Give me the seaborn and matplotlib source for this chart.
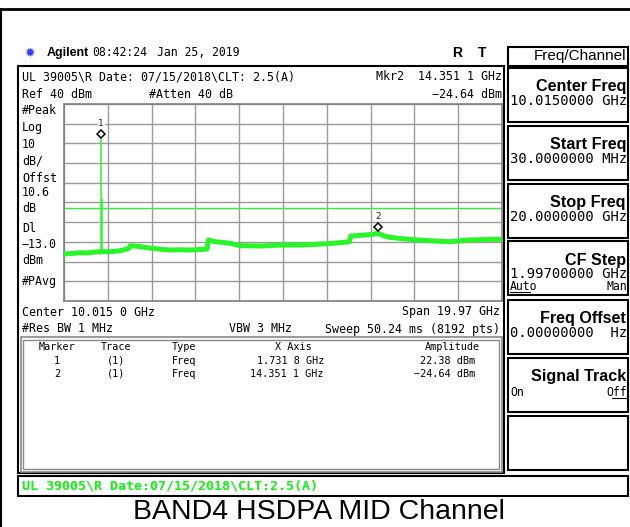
import matplotlib
matplotlib.use('Agg')
import matplotlib.pyplot as plt
import matplotlib.transforms as mtransforms
from matplotlib.patches import Rectangle
import seaborn as sns
import pandas as pd
import numpy as np

# trace (GHz, dBm)
trace_freq = [0.03, 0.40, 0.76, 1.10, 1.40, 1.67, 1.99, 2.30, 2.58, 2.85, 3.00,
              3.05, 3.50, 4.00, 4.50, 4.86, 5.30, 5.77, 6.20, 6.55,
              6.62, 6.91, 7.30, 7.60, 8.05, 8.50, 8.97, 9.50, 10.01, 10.79,
              11.30, 11.70, 12.20, 12.60, 13.05,
              13.10, 13.40, 13.75, 14.10, 14.35, 14.60, 14.90, 15.30, 15.80,
              16.20, 16.70, 17.20, 17.60, 18.00, 18.50, 19.00, 19.45, 20.00]
trace_dbm = [-36.1, -35.9, -35.5, -35.6, -35.2, -35.0, -35.0, -34.8, -34.5, -33.8, -33.1,
             -31.9, -32.4, -33.2, -33.8, -34.1, -34.0, -34.1, -33.9, -33.6,
             -29.0, -29.9, -30.3, -30.7, -31.9, -32.0, -32.1, -31.8, -31.6, -31.6,
             -31.4, -31.1, -30.8, -30.4, -29.9,
             -27.0, -26.8, -26.5, -26.2, -25.6, -26.9, -27.7, -28.2, -28.7,
             -29.0, -29.4, -29.7, -29.9, -29.5, -29.0, -28.9, -28.7, -28.7]

# carrier spike at marker 1 and its skirt
spike_freq = [1.7318, 1.7318]
spike_dbm = [-35.0, 22.38]
skirt_freq = [1.76, 1.76]
skirt_dbm = [-35.0, -8.2]

marker_ids = ["1", "2"]
marker_freq = [1.7318, 14.3511]
marker_dbm = [22.38, -24.64]

display_line = -13.0
ref_level = 40
db_per_div = 10
start_ghz, stop_ghz = 0.03, 20.0

W, H = 630, 527
fig = plt.figure(figsize=(W / 100, H / 100), dpi=100)
sns.set_style("white")

MONO = "DejaVu Sans Mono"
SANS = "Liberation Sans"
GREEN = "#2af52a"

# background / annotation layer in pixel coordinates
bg = fig.add_axes([0, 0, 1, 1], zorder=0)
bg.set_xlim(0, W)
bg.set_ylim(H, 0)
bg.axis("off")


def box(x, y, w, h, color="black", lw=1.5):
    bg.add_patch(Rectangle((x, y), w, h, fill=False, ec=color, lw=lw))


def txt(x, y, s, size=8.3, ha="left", family=MONO, weight="normal", color="black"):
    bg.text(x, y, s, fontsize=size, ha=ha, va="center", family=family,
            weight=weight, color=color)


# outer frame of the screenshot
bg.plot([0, W], [8.5, 8.5], color="black", lw=2)
bg.plot([0.8, 0.8], [8.5, H], color="black", lw=1.5)

# header row
txt(30, 53, "✹", size=9, ha="center", family="DejaVu Sans", color="#3a3aff")
txt(47, 53, "Agilent", size=9, family=SANS, weight="bold")
txt(92, 53, "08:42:24", size=8.3)
txt(157, 53, "Jan 25, 2019", size=8.3)
txt(457, 53, "R", size=10, ha="center", family=SANS, weight="bold")
txt(482, 53, "T", size=10, ha="center", family=SANS, weight="bold")

# main screen box
box(18, 66, 486, 407)
txt(22, 77, "UL 39005\\R Date: 07/15/2018\\CLT: 2.5(A)", size=8.4)
txt(502, 77, "Mkr2  14.351 1 GHz", ha="right", size=8.4)
txt(22, 95, "Ref 40 dBm", size=8.4)
txt(149, 95, "#Atten 40 dB", size=8.4)
txt(502, 95, "−24.64 dBm", ha="right", size=8.4)

side_labels = [("#Peak", 110), ("Log", 127), ("10", 144), ("dB/", 161), ("Offst", 178),
               ("10.6", 193), ("dB", 209), ("Dl", 229), ("−13.0", 245), ("dBm", 261),
               ("#PAvg", 281)]
for s, y in side_labels:
    txt(22, y, s, size=8.4)

txt(22, 312, "Center 10.015 0 GHz", size=8.4)
txt(500, 312, "Span 19.97 GHz", ha="right", size=8.4)
txt(22, 329, "#Res BW 1 MHz", size=8.4)
txt(229, 329, "VBW 3 MHz", size=8.4)
txt(500, 329, "Sweep 50.24 ms (8192 pts)", ha="right", size=8.4)

# marker table
box(20.5, 337, 481, 134.5, color="#888888", lw=1.2)
box(23, 339.5, 476, 129.5, color="#888888", lw=1.0)
TS = 7.3
for s, x in [("Marker", 57), ("Trace", 116), ("Type", 184), ("X Axis", 293), ("Amplitude", 452)]:
    txt(x, 347, s, size=TS, ha="center")
rows = [("1", "(1)", "Freq", "1.731 8 GHz", "22.38 dBm"),
        ("2", "(1)", "Freq", "14.351 1 GHz", "−24.64 dBm")]
for i, r in enumerate(rows):
    y = 360.5 + i * 13.5
    txt(57, y, r[0], size=TS, ha="center")
    txt(116, y, r[1], size=TS, ha="center")
    txt(184, y, r[2], size=TS, ha="center")
    txt(324, y, r[3], size=TS, ha="right")
    txt(475, y, r[4], size=TS, ha="right")

# right-hand softkeys
box(508, 47, 120, 18.5)
txt(626, 56, "Freq/Channel", size=11, ha="right", family=SANS)
keys = [("Center Freq", "10.0150000 GHz"), ("Start Freq", "30.0000000 MHz"),
        ("Stop Freq", "20.0000000 GHz"), ("CF Step", "1.99700000 GHz"),
        ("Freq Offset", "0.00000000  Hz"), ("Signal Track", None), (None, None)]
key_top = [68, 126, 184, 241, 300, 358, 416]
for (label, value), top in zip(keys, key_top):
    box(508, top, 120, 54)
    if label:
        txt(626, top + 19, label, size=11.6, ha="right", family=SANS, weight="bold")
    if value:
        txt(627, top + 33, value, size=10, ha="right")
# CF Step auto/man and signal track on/off
txt(510, 286, "Auto", size=8.3)
bg.plot([510, 530], [292, 292], color="black", lw=0.8)
txt(627, 286, "Man", size=8.3, ha="right")
txt(510, 392, "On", size=8.3)
txt(627, 392, "Off", size=8.3, ha="right")
bg.plot([612, 627], [398, 398], color="black", lw=0.8)

# green status bar
box(18, 476, 610, 20)
txt(22, 486, "UL 39005\\R Date:07/15/2018\\CLT:2.5(A)", size=9.6, weight="bold", color="#11ee11")

# caption
txt(319, 512, "BAND4 HSDPA MID Channel", size=20.5, ha="center", family=SANS)

# spectrum graticule
ax = fig.add_axes([64 / W, (H - 301) / H, 438 / W, 197 / H], zorder=2)
df = pd.DataFrame({"freq": trace_freq, "dbm": trace_dbm})
sns.lineplot(data=df, x="freq", y="dbm", ax=ax, color=GREEN, lw=3.6,
             estimator=None, sort=False, zorder=3)
ax.plot(spike_freq, spike_dbm, color=GREEN, lw=1.1, zorder=3)
ax.plot(skirt_freq, skirt_dbm, color=GREEN, lw=1.1, zorder=3)
ax.axhline(display_line, color=GREEN, lw=1.0, zorder=2)

mark_tr = mtransforms.offset_copy(ax.transData, fig=fig, x=0, y=3.2, units="points")
lab_tr = mtransforms.offset_copy(ax.transData, fig=fig, x=0, y=11, units="points")
for mid, f, d in zip(marker_ids, marker_freq, marker_dbm):
    ax.plot([f], [d], marker="D", ms=4.2, mfc="white", mec="black", mew=1.1,
            transform=mark_tr, zorder=5)
    ax.text(f, d, mid, transform=lab_tr, fontsize=6.5, ha="center", va="center",
            family="DejaVu Sans", zorder=5,
            bbox=dict(fc="white", ec="none", pad=0.3))

ax.set_xlim(start_ghz, stop_ghz)
ax.set_ylim(ref_level - 10 * db_per_div, ref_level)
ax.set_xticks(np.linspace(start_ghz, stop_ghz, 11))
ax.set_yticks(range(ref_level - 10 * db_per_div, ref_level + 1, db_per_div))
ax.grid(True, color="#9a9a9a", lw=1.0)
ax.tick_params(length=0, labelbottom=False, labelleft=False)
ax.set_xlabel("")
ax.set_ylabel("")
for sp in ax.spines.values():
    sp.set_color("#808080")
    sp.set_linewidth(1.2)

fig.savefig("out.png", dpi=100)
plt.close(fig)
